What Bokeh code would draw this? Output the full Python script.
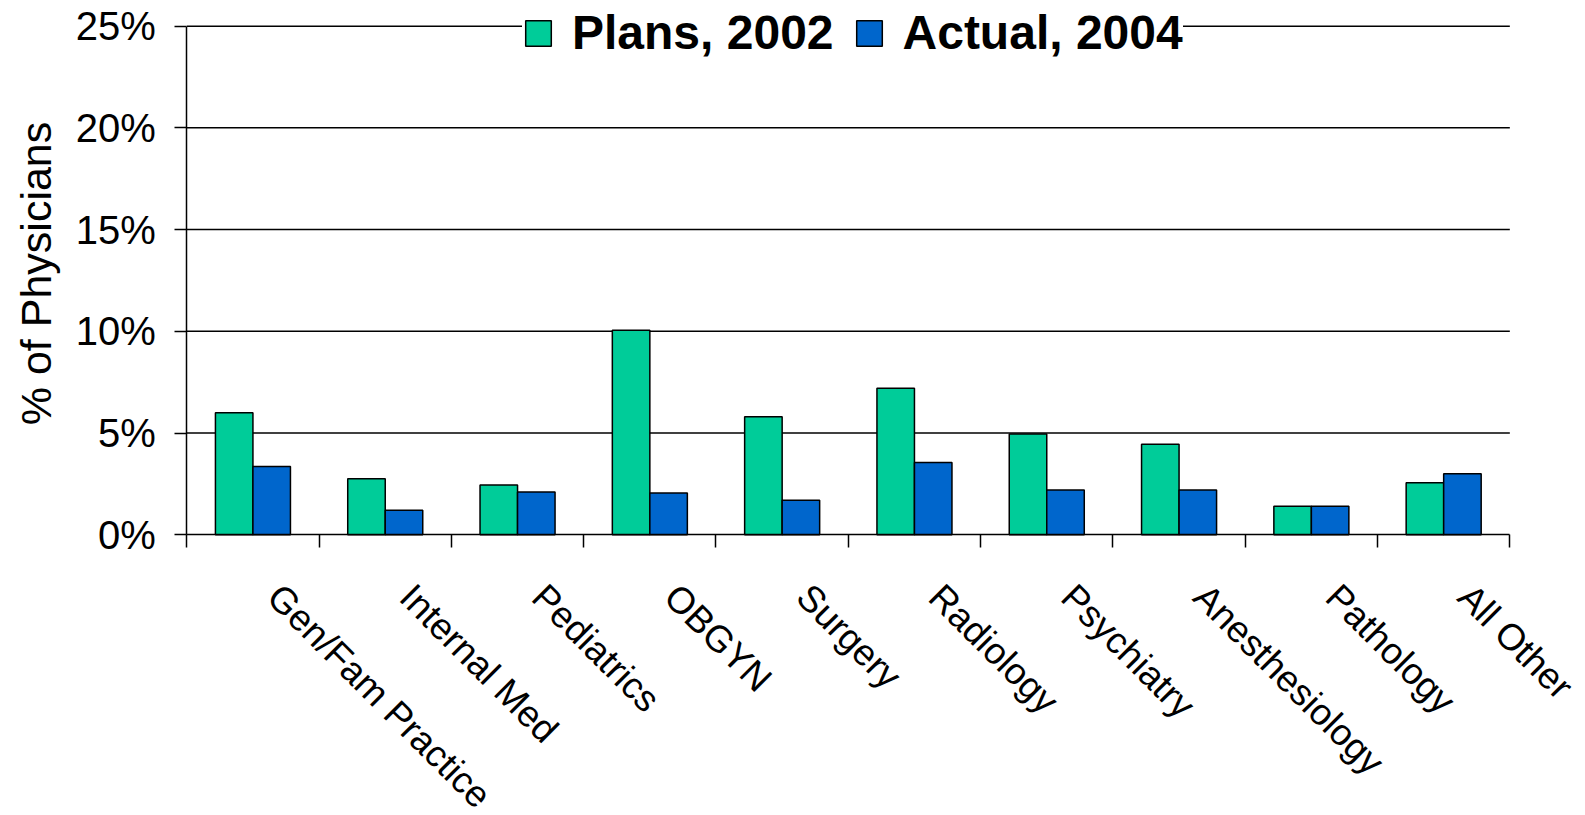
from bokeh.plotting import figure
from bokeh.models import (ColumnDataSource, FixedTicker, Range1d, Legend, LegendItem,
                          PrintfTickFormatter, LabelSet, Label)
from bokeh.core.properties import value
from bokeh.transform import dodge
from bokeh.embed import file_html
from bokeh.resources import INLINE
import math

categories = ["Gen/Fam Practice", "Internal Med", "Pediatrics", "OBGYN", "Surgery",
              "Radiology", "Psychiatry", "Anesthesiology", "Pathology", "All Other"]
plans_2002 = [6.0, 2.75, 2.45, 10.05, 5.8, 7.2, 4.95, 4.45, 1.4, 2.55]
actual_2004 = [3.35, 1.2, 2.1, 2.05, 1.7, 3.55, 2.2, 2.2, 1.4, 3.0]
y_ticks = [0, 5, 10, 15, 20, 25]
series_names = ["Plans, 2002", "Actual, 2004"]
y_title = "% of Physicians"

n = len(categories)
pos = [i + 0.5 for i in range(n)]
src = ColumnDataSource(data=dict(x=pos, cat=categories, plans=plans_2002, actual=actual_2004))

FONT = "Liberation Sans"
GREEN = "#00CC99"
BLUE = "#0066CC"

# the frame covers the whole canvas; both axes are drawn at fixed positions inside it
p = figure(width=1585, height=815, output_backend="svg", toolbar_location=None,
           x_range=Range1d(-1.408, n + 0.572), y_range=Range1d(-13.80, 26.26),
           min_border_left=0, min_border_right=0, min_border_top=0, min_border_bottom=0)
p.outline_line_color = None
p.background_fill_color = "white"
p.xgrid.grid_line_color = None
p.ygrid.grid_line_color = None

# horizontal gridlines spanning the category area only
grid_y = y_ticks[1:]
p.segment(x0=[0] * len(grid_y), x1=[n] * len(grid_y), y0=grid_y, y1=grid_y,
          line_color="black", line_width=1.5)

bw = 0.2835
r1 = p.vbar(x=dodge("x", -bw / 2), top="plans", width=bw, source=src,
            fill_color=GREEN, line_color="black", line_width=1.5)
r2 = p.vbar(x=dodge("x", bw / 2), top="actual", width=bw, source=src,
            fill_color=BLUE, line_color="black", line_width=1.5)

# x axis at y = 0: tick marks at category boundaries
xa = p.xaxis[0]
xa.fixed_location = 0
xa.bounds = (0, n)
xa.ticker = FixedTicker(ticks=pos, minor_ticks=list(range(n + 1)))
xa.major_label_overrides = {pv: "" for pv in pos}
xa.major_label_text_font_size = "1px"
xa.major_label_standoff = 0
xa.major_tick_line_color = None
xa.major_tick_out = 0
xa.major_tick_in = 0
xa.minor_tick_out = 13
xa.minor_tick_in = 0
xa.minor_tick_line_color = "black"
xa.minor_tick_line_width = 1.5
xa.axis_line_color = "black"
xa.axis_line_width = 1.5

# rotated category names below each group
cat_labels = LabelSet(x="x", y=0, text="cat", source=src, angle=-math.pi / 4,
                      text_align="left", text_baseline="middle",
                      x_offset=21, y_offset=-56,
                      text_font=value(FONT), text_font_size=value("37px"),
                      text_color="black")
p.add_layout(cat_labels)

# y axis at x = 0
ya = p.yaxis[0]
ya.fixed_location = 0
ya.ticker = FixedTicker(ticks=y_ticks)
ya.formatter = PrintfTickFormatter(format="%d%%")
ya.bounds = (y_ticks[0], y_ticks[-1])
ya.major_tick_out = 12
ya.major_tick_in = 0
ya.minor_tick_line_color = None
ya.major_tick_line_width = 1.5
ya.major_tick_line_color = "black"
ya.axis_line_width = 1.5
ya.axis_line_color = "black"
ya.major_label_text_font = FONT
ya.major_label_text_font_size = "40px"
ya.major_label_text_color = "black"
ya.major_label_standoff = 19

y_label = Label(x=35, y=542, x_units="screen", y_units="screen", text=y_title,
                angle=math.pi / 2, text_align="center", text_baseline="middle",
                text_font=FONT, text_font_size="43px", text_color="black")
p.add_layout(y_label)

legend = Legend(items=[LegendItem(label=series_names[0], renderers=[r1]),
                       LegendItem(label=series_names[1], renderers=[r2])],
                orientation="horizontal", location=(522, 755),
                label_text_font=FONT, label_text_font_style="bold",
                label_text_font_size="48px", label_text_color="black",
                glyph_width=32, glyph_height=32, label_standoff=18, spacing=19,
                padding=12, margin=0, border_line_color=None,
                background_fill_color="white", background_fill_alpha=1.0)
p.add_layout(legend)

open("out.html", "w").write(file_html(p, INLINE))
